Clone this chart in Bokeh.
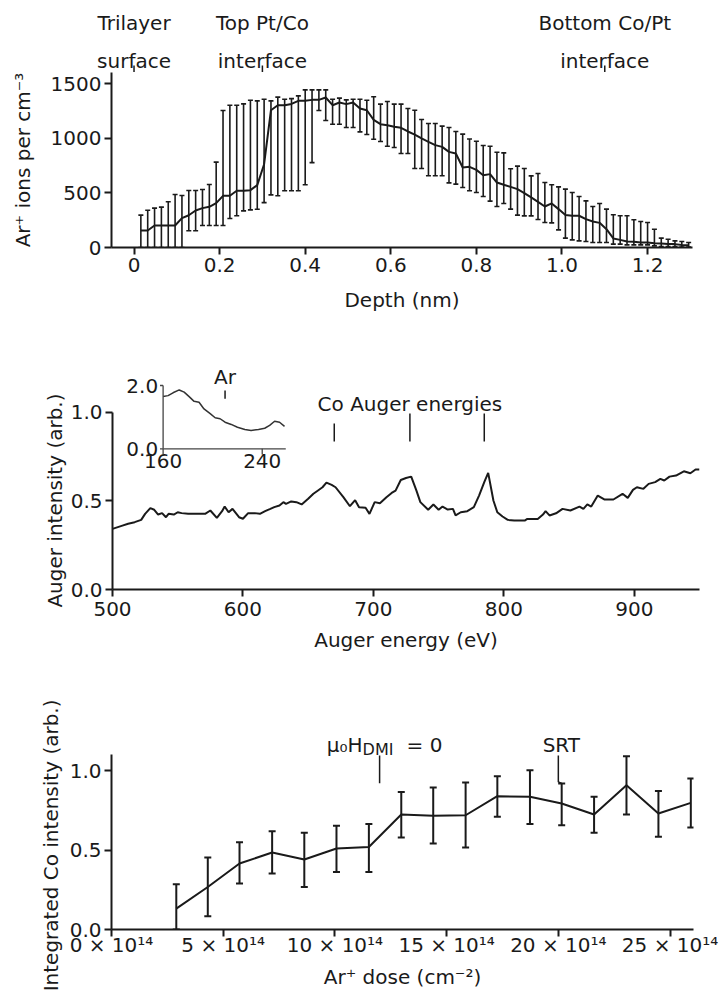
from bokeh.plotting import figure
from bokeh.layouts import column, row
from bokeh.models import (Range1d, FixedTicker, PrintfTickFormatter, CustomJSTickFormatter,
                          Whisker, TeeHead, ColumnDataSource)
from bokeh.core.properties import value
from bokeh.embed import file_html
from bokeh.resources import INLINE
import math

FONT = "DejaVu Sans"
INK = "#1a1a1a"

# ---------------- Panel 1: Ar+ depth profile ----------------
depth_nm = [0.016, 0.032, 0.048, 0.064, 0.080, 0.096, 0.112, 0.128, 0.144, 0.160,
            0.176, 0.192, 0.208, 0.224, 0.240, 0.256, 0.272, 0.288, 0.304, 0.320,
            0.336, 0.352, 0.368, 0.384, 0.400, 0.416, 0.432, 0.448, 0.464, 0.480,
            0.496, 0.512, 0.528, 0.544, 0.560, 0.576, 0.592, 0.608, 0.624, 0.640,
            0.656, 0.672, 0.688, 0.704, 0.720, 0.736, 0.752, 0.768, 0.784, 0.800,
            0.816, 0.832, 0.848, 0.864, 0.880, 0.896, 0.912, 0.928, 0.944, 0.960,
            0.976, 0.992, 1.008, 1.024, 1.040, 1.056, 1.072, 1.088, 1.104, 1.120,
            1.136, 1.152, 1.168, 1.184, 1.200, 1.216, 1.232, 1.248, 1.264, 1.280,
            1.296]
ar_ions = [156, 156, 202, 202, 202, 202, 269, 296, 339, 361,
           373, 407, 474, 474, 520, 520, 526, 572, 764, 1259,
           1305, 1305, 1317, 1345, 1345, 1354, 1354, 1376, 1305, 1330,
           1315, 1330, 1275, 1259, 1171, 1131, 1122, 1107, 1098, 1064,
           1036, 1000, 969, 939, 923, 877, 862, 734, 740, 712,
           663, 673, 596, 575, 556, 535, 499, 459, 419, 376,
           404, 352, 297, 291, 291, 260, 239, 226, 168, 83,
           70, 55, 52, 46, 46, 40, 37, 31, 31, 24,
           21]
ar_upper = [297, 342, 361, 370, 419, 486, 477, 523, 523, 532,
            578, 783, 1257, 1305, 1305, 1317, 1351, 1345, 1360, 1345,
            1379, 1360, 1365, 1391, 1446, 1446, 1446, 1446, 1360, 1370,
            1354, 1360, 1360, 1351, 1382, 1315, 1339, 1315, 1315, 1275,
            1259, 1174, 1137, 1137, 1113, 1101, 1064, 1040, 995, 975,
            935, 929, 874, 868, 722, 746, 725, 657, 679, 596,
            575, 556, 535, 504, 468, 428, 376, 403, 352, 300,
            291, 291, 254, 238, 229, 168, 86, 76, 61, 55,
            46]
ar_lower = [0, 0, 0, 0, 0, 0, 0, 153, 153, 202,
            202, 202, 202, 266, 291, 336, 345, 351, 412, 483,
            474, 520, 520, 520, 575, 778, 1256, 1165, 1131, 1131,
            1100, 1100, 1060, 1036, 993, 972, 929, 917, 862, 862,
            725, 725, 658, 658, 658, 593, 581, 550, 520, 505,
            468, 425, 376, 403, 352, 297, 290, 290, 257, 229,
            226, 162, 86, 70, 61, 55, 46, 46, 46, 31,
            31, 24, 24, 24, 24, 15, 9, 9, 9, 3,
            3]
depth_ticks = [0, 0.2, 0.4, 0.6, 0.8, 1.0, 1.2]
ions_ticks = [0, 500, 1000, 1500]
interface_depths = [0.0, 0.3, 1.1]
interface_line1 = ["Trilayer", "Top Pt/Co", "Bottom Co/Pt"]
interface_line2 = ["surface", "interface", "interface"]

# ---------------- Panel 2: Auger spectrum ----------------
auger_energy = [500, 507, 512, 517, 522, 525, 529, 532, 535, 538,
                541, 543, 547, 550, 553, 558, 566, 571, 575, 580,
                584, 586, 589, 592, 597, 600, 604, 609, 613, 617,
                621, 624, 628, 631, 633, 637, 641, 645, 650, 654,
                657, 661, 664, 668, 671, 677, 682, 686, 689, 694,
                697, 701, 705, 710, 714, 717, 721, 725, 729, 733,
                736, 742, 746, 750, 753, 757, 761, 763, 767, 772,
                777, 781, 785, 788, 792, 795, 799, 803, 808, 813,
                816, 818, 826, 830, 832, 835, 840, 845, 851, 858,
                861, 864, 867, 872, 877, 884, 891, 895, 899, 902,
                907, 911, 916, 920, 923, 927, 932, 938, 943, 947,
                950]
auger_intensity = [0.342, 0.359, 0.371, 0.380, 0.393, 0.427, 0.459, 0.450, 0.423, 0.431,
                   0.408, 0.427, 0.423, 0.436, 0.431, 0.427, 0.427, 0.427, 0.446, 0.404,
                   0.442, 0.468, 0.436, 0.455, 0.408, 0.399, 0.431, 0.431, 0.427, 0.442,
                   0.455, 0.465, 0.474, 0.493, 0.483, 0.497, 0.493, 0.480, 0.512, 0.540,
                   0.556, 0.577, 0.603, 0.590, 0.577, 0.521, 0.470, 0.504, 0.464, 0.461,
                   0.427, 0.493, 0.487, 0.521, 0.545, 0.558, 0.618, 0.629, 0.637, 0.558,
                   0.493, 0.450, 0.480, 0.450, 0.468, 0.451, 0.455, 0.418, 0.436, 0.442,
                   0.465, 0.530, 0.606, 0.658, 0.502, 0.436, 0.412, 0.393, 0.389, 0.389,
                   0.389, 0.398, 0.398, 0.423, 0.442, 0.418, 0.430, 0.455, 0.446, 0.468,
                   0.455, 0.480, 0.468, 0.530, 0.508, 0.508, 0.540, 0.517, 0.562, 0.577,
                   0.568, 0.596, 0.606, 0.624, 0.615, 0.637, 0.643, 0.667, 0.656, 0.677,
                   0.677]
energy_ticks = [500, 600, 700, 800, 900]
intensity_ticks = [0.0, 0.5, 1.0]
co_auger_energies = [670, 728, 785]
co_marker_low = [0.835, 0.835, 0.835]
co_marker_high = [0.937, 0.993, 0.993]

inset_energy = [160, 164, 168, 173, 177, 181, 185, 189, 193, 198, 202, 206,
                210, 215, 220, 226, 231, 237, 242, 246, 250, 254, 258]
inset_intensity = [1.65, 1.68, 1.77, 1.86, 1.79, 1.65, 1.50, 1.47, 1.26, 1.11, 0.98, 0.95,
                   0.84, 0.77, 0.68, 0.61, 0.58, 0.61, 0.65, 0.74, 0.87, 0.84, 0.71]
inset_x_ticks = [160, 240]
inset_y_ticks = [0.0, 2.0]
ar_auger_energy = 210

# ---------------- Panel 3: integrated Co intensity vs dose ----------------
dose_1e14 = [2.90, 4.31, 5.73, 7.19, 8.63, 10.07, 11.52, 12.97, 14.40, 15.85,
             17.27, 18.73, 20.15, 21.60, 23.05, 24.48, 25.93]
co_intensity = [0.132, 0.268, 0.416, 0.485, 0.441, 0.510, 0.520, 0.725, 0.716, 0.720,
                0.840, 0.836, 0.794, 0.725, 0.909, 0.731, 0.798]
co_upper = [0.285, 0.454, 0.550, 0.619, 0.609, 0.653, 0.664, 0.867, 0.895, 0.926,
            0.966, 1.004, 0.920, 0.836, 1.092, 0.873, 0.951]
co_lower = [0.0, 0.084, 0.290, 0.353, 0.268, 0.363, 0.363, 0.580, 0.542, 0.517,
            0.710, 0.664, 0.657, 0.609, 0.725, 0.584, 0.643]
dose_ticks = [0, 5, 10, 15, 20, 25]
dmi_zero_dose = 12.0
srt_dose = 20.0


def style_axes(p, x_standoff=3, x_tick_out=7):
    for ax in p.axis:
        ax.axis_line_width = 2
        ax.axis_line_color = INK
        ax.major_tick_line_width = 2
        ax.major_tick_line_color = INK
        ax.major_tick_in = 0
        ax.major_tick_out = 7
        ax.minor_tick_line_color = None
        ax.major_label_text_font = FONT
        ax.major_label_text_font_size = "20px"
        ax.major_label_text_color = INK
        ax.major_label_standoff = 3
        ax.axis_label_text_font = FONT
        ax.axis_label_text_font_size = "20px"
        ax.axis_label_text_font_style = "normal"
        ax.axis_label_text_color = INK
    p.xaxis.major_label_standoff = x_standoff
    p.xaxis.major_tick_out = x_tick_out


def base_fig(w, h, xr, yr, left, right, bottom):
    p = figure(width=w, height=h, x_range=xr, y_range=yr, output_backend="svg",
               toolbar_location=None, min_border_left=left, min_border_right=right,
               min_border_top=0, min_border_bottom=bottom)
    p.outline_line_color = None
    p.grid.visible = False
    p.background_fill_color = "white"
    p.border_fill_color = "white"
    return p


def blank_fig(w, h, xr, yr):
    p = figure(width=w, height=h, x_range=xr, y_range=yr, output_backend="svg",
               toolbar_location=None, x_axis_type=None, y_axis_type=None,
               min_border_left=0, min_border_right=0, min_border_top=0, min_border_bottom=0)
    p.outline_line_color = None
    p.grid.visible = False
    p.background_fill_color = "white"
    p.border_fill_color = "white"
    return p


def solo(f):
    # wrap a figure alone so that its frame is not aligned with its neighbours
    return column(f)


TXT = dict(text_font=value(FONT), text_font_size="20px", text_color=INK)

# ---- Panel 1 ----
strip1 = blank_fig(719, 72, Range1d(-0.3120, 1.3681), Range1d(1602, 2262))
strip1.text(x=interface_depths, y=[2054] * 3, text=interface_line1, text_align="center",
            text_baseline="alphabetic", **TXT)
strip1.text(x=interface_depths, y=[1712] * 3, text=interface_line2, text_align="center",
            text_baseline="alphabetic", **TXT)
strip1.segment(x0=interface_depths, y0=[1603] * 3, x1=interface_depths, y1=[1666] * 3,
               line_width=1.5, color=INK)

p1 = base_fig(719, 258, Range1d(-0.0526, 1.305), Range1d(0, 1605), 111, 27, 83)
p1.line(depth_nm, ar_ions, line_width=2, color=INK)
src1 = ColumnDataSource(dict(x=depth_nm, upper=ar_upper, lower=ar_lower))
p1.add_layout(Whisker(source=src1, base="x", upper="upper", lower="lower",
                      line_color=INK, line_width=1.6,
                      upper_head=TeeHead(size=5, line_color=INK, line_width=1.6),
                      lower_head=TeeHead(size=5, line_color=INK, line_width=1.6)))
p1.xaxis.ticker = FixedTicker(ticks=depth_ticks)
p1.xaxis.formatter = CustomJSTickFormatter(code="return tick == 0 ? '0' : tick.toFixed(1);")
p1.yaxis.ticker = FixedTicker(ticks=ions_ticks)
p1.yaxis.formatter = PrintfTickFormatter(format="%d")
p1.xaxis.axis_label = "Depth (nm)"
p1.yaxis.axis_label = "Ar\u207a ions per cm\u207b\u00b3"
style_axes(p1)
p1.xaxis.axis_label_standoff = 13
p1.yaxis.axis_label_standoff = 13

# ---- Panel 2 ----
title2 = blank_fig(67, 330, Range1d(415.07, 466.34), Range1d(-0.4007, 1.4616))
title2.text(x=[456.4], y=[0.502], text=["Auger intensity (arb.)"], angle=math.pi / 2,
            text_align="center", text_baseline="middle", **TXT)

p2 = base_fig(652, 330, Range1d(500, 950), Range1d(0, 1.4616), 44, 20, 71)
p2.line(auger_energy, auger_intensity, line_width=2, color=INK)
p2.xaxis.ticker = FixedTicker(ticks=energy_ticks)
p2.yaxis.ticker = FixedTicker(ticks=intensity_ticks)
p2.yaxis.formatter = PrintfTickFormatter(format="%.1f")
p2.yaxis.bounds = (0, 1.0)
p2.xaxis.axis_label = "Auger energy (eV)"
style_axes(p2, x_standoff=5)
p2.xaxis.axis_label_standoff = 9
p2.segment(x0=co_auger_energies, y0=co_marker_low, x1=co_auger_energies, y1=co_marker_high,
           line_width=1.5, color=INK)
p2.text(x=[728], y=[1.048], text=["Co Auger energies"], text_align="center",
        text_baseline="alphabetic", **TXT)

# inset drawn on its own ranges
p2.extra_x_ranges = {"ix": Range1d(119.15, 592.96)}
p2.extra_y_ranges = {"iy": Range1d(-4.445, 3.738)}
IR = dict(x_range_name="ix", y_range_name="iy")
p2.line(inset_energy, inset_intensity, line_width=1.5, color="#333333", **IR)
p2.segment(x0=[160, 160], y0=[0, 0], x1=[259, 160], y1=[0, 2.0], line_width=1.3, color="#444444", **IR)
p2.segment(x0=inset_x_ticks, y0=[0, 0], x1=inset_x_ticks, y1=[-0.18, -0.18], line_width=1.3,
           color="#444444", **IR)
p2.segment(x0=[160, 160], y0=inset_y_ticks, x1=[157.5, 157.5], y1=inset_y_ticks, line_width=1.3,
           color="#444444", **IR)
p2.text(x=[156, 156], y=inset_y_ticks, text=["%.1f" % v for v in inset_y_ticks], text_align="right",
        text_baseline="middle", **TXT, **IR)
p2.text(x=inset_x_ticks, y=[-0.37, -0.37], text=[str(v) for v in inset_x_ticks], text_align="center",
        text_baseline="middle", **TXT, **IR)
p2.text(x=[ar_auger_energy], y=[2.26], text=["Ar"], text_align="center", text_baseline="alphabetic",
        **TXT, **IR)
p2.segment(x0=[ar_auger_energy], y0=[1.58], x1=[ar_auger_energy], y1=[1.84], line_width=1.5,
           color=INK, **IR)

# ---- Panel 3 ----
title3 = blank_fig(66, 339, Range1d(-4.971, -2.015), Range1d(-0.439, 1.695))
title3.text(x=[-2.69], y=[0.531], text=["Integrated Co intensity (arb.)"], angle=math.pi / 2,
            text_align="center", text_baseline="middle", **TXT)

p3 = base_fig(653, 339, Range1d(0, 26.05), Range1d(0, 1.695), 45, 26, 70)
p3.line(dose_1e14, co_intensity, line_width=2, color=INK)
src3 = ColumnDataSource(dict(x=dose_1e14, upper=co_upper, lower=co_lower))
p3.add_layout(Whisker(source=src3, base="x", upper="upper", lower="lower",
                      line_color=INK, line_width=2,
                      upper_head=TeeHead(size=7, line_color=INK, line_width=2),
                      lower_head=TeeHead(size=7, line_color=INK, line_width=2)))
p3.xaxis.ticker = FixedTicker(ticks=dose_ticks)
p3.xaxis.formatter = CustomJSTickFormatter(code="return tick.toFixed(0) + ' \\u00d7 10\\u00b9\\u2074';")
p3.yaxis.ticker = FixedTicker(ticks=intensity_ticks)
p3.yaxis.formatter = PrintfTickFormatter(format="%.1f")
p3.yaxis.bounds = (0, 1.1)
p3.xaxis.axis_label = "Ar\u207a dose (cm\u207b\u00b2)"
style_axes(p3, x_standoff=-4, x_tick_out=7)
p3.xaxis.axis_label_standoff = 5
p3.segment(x0=[dmi_zero_dose], y0=[0.921], x1=[dmi_zero_dose], y1=[1.097], line_width=1.5, color=INK)
p3.line([srt_dose, srt_dose, srt_dose + 0.15], [1.097, 0.93, 0.92], line_width=1.5, color=INK)
p3.text(x=[dmi_zero_dose], y=[1.161], text=["\u03bc\u2080H"], x_offset=-17, text_align="right",
        text_baseline="alphabetic", **TXT)
p3.text(x=[dmi_zero_dose], y=[1.161], text=["DMI"], x_offset=-17, y_offset=4, text_align="left",
        text_baseline="alphabetic", text_font=value(FONT), text_font_size="16px", text_color=INK)
p3.text(x=[dmi_zero_dose], y=[1.161], text=["= 0"], x_offset=27, text_align="left",
        text_baseline="alphabetic", **TXT)
p3.text(x=[srt_dose], y=[1.161], text=["SRT"], x_offset=3, text_align="center",
        text_baseline="alphabetic", **TXT)

layout = column(solo(strip1), solo(p1),
                row(solo(title2), solo(p2)),
                row(solo(title3), solo(p3)))
open("out.html", "w", encoding="utf-8").write(file_html(layout, INLINE))
